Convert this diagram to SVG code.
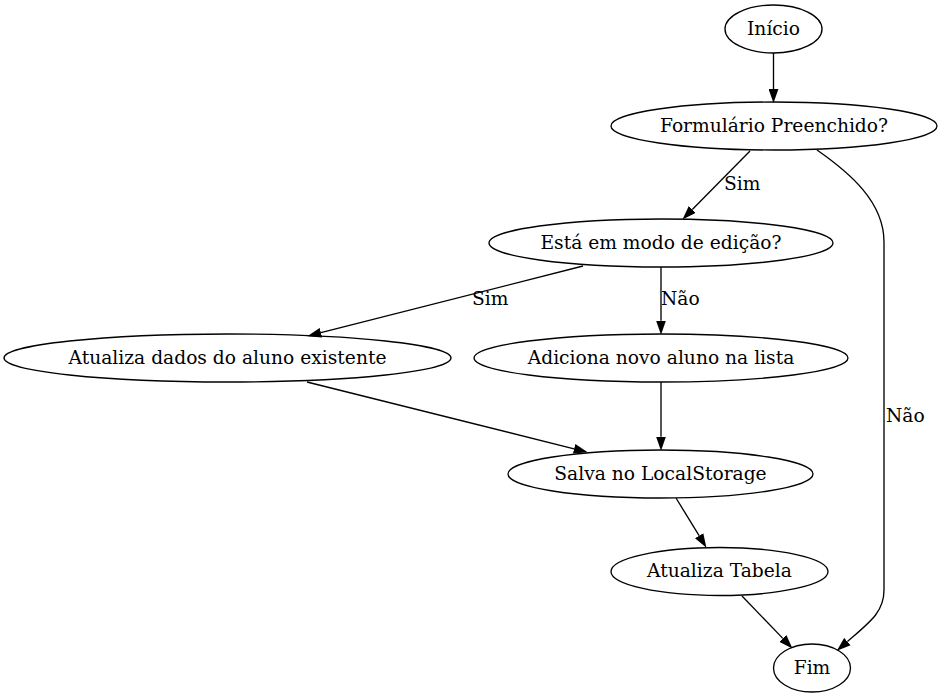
<svg xmlns="http://www.w3.org/2000/svg" width="942" height="699" viewBox="0 0 942 699">
<defs>
<style>
.n ellipse{fill:none;stroke:#000;stroke-width:1.33}
text{font-family:"DejaVu Serif","Liberation Serif",serif;font-size:18.67px;fill:#000}
.n text{text-anchor:middle}
.e path{fill:none;stroke:#000;stroke-width:1.33}
</style>
<marker id="ah" markerUnits="userSpaceOnUse" markerWidth="14" markerHeight="10" viewBox="0 0 13.3 9.34" refX="0" refY="4.67" orient="auto">
<path d="M0,0 L13.3,4.67 L0,9.34 Z" fill="#000"/>
</marker>
</defs>
<rect width="942" height="699" fill="#fff"/>
<g id="edges" class="e">
<path d="M773.5,53 L773.5,89" marker-end="url(#ah)"/>
<path d="M750,151 L692.3,209.5" marker-end="url(#ah)"/>
<text x="724" y="190">Sim</text>
<path d="M817,150 C850,173 884,202 884,242 L884,590 C884,612 870,622 847.4,641.6" marker-end="url(#ah)"/>
<text x="886" y="422">Não</text>
<path d="M583,266 L320.9,332.7" marker-end="url(#ah)"/>
<text x="472" y="305">Sim</text>
<path d="M661,267 L661,320.7" marker-end="url(#ah)"/>
<text x="661" y="305">Não</text>
<path d="M307,382 L574.1,448.8" marker-end="url(#ah)"/>
<path d="M661,382 L661,436.7" marker-end="url(#ah)"/>
<path d="M676,498 L699.1,535.7" marker-end="url(#ah)"/>
<path d="M742,596 L782.8,638.4" marker-end="url(#ah)"/>
</g>
<g id="inicio" class="n"><ellipse cx="773.5" cy="29" rx="48.5" ry="24"/><text x="773.5" y="34.6">Início</text></g>
<g id="formulario" class="n"><ellipse cx="774" cy="126" rx="163" ry="24"/><text x="774" y="131.6">Formulário Preenchido?</text></g>
<g id="edicao" class="n"><ellipse cx="661" cy="243" rx="172" ry="24"/><text x="661" y="248.6">Está em modo de edição?</text></g>
<g id="atualiza_dados" class="n"><ellipse cx="227.5" cy="358" rx="223.5" ry="24"/><text x="227.5" y="363.6">Atualiza dados do aluno existente</text></g>
<g id="adiciona" class="n"><ellipse cx="661" cy="358" rx="187" ry="24"/><text x="661" y="363.6">Adiciona novo aluno na lista</text></g>
<g id="salva" class="n"><ellipse cx="660.5" cy="474" rx="152.5" ry="24"/><text x="660.5" y="479.6">Salva no LocalStorage</text></g>
<g id="tabela" class="n"><ellipse cx="719.5" cy="571.5" rx="108.5" ry="24"/><text x="719.5" y="577.1">Atualiza Tabela</text></g>
<g id="fim" class="n"><ellipse cx="812" cy="668" rx="38.5" ry="24"/><text x="812" y="673.6">Fim</text></g>
</svg>
